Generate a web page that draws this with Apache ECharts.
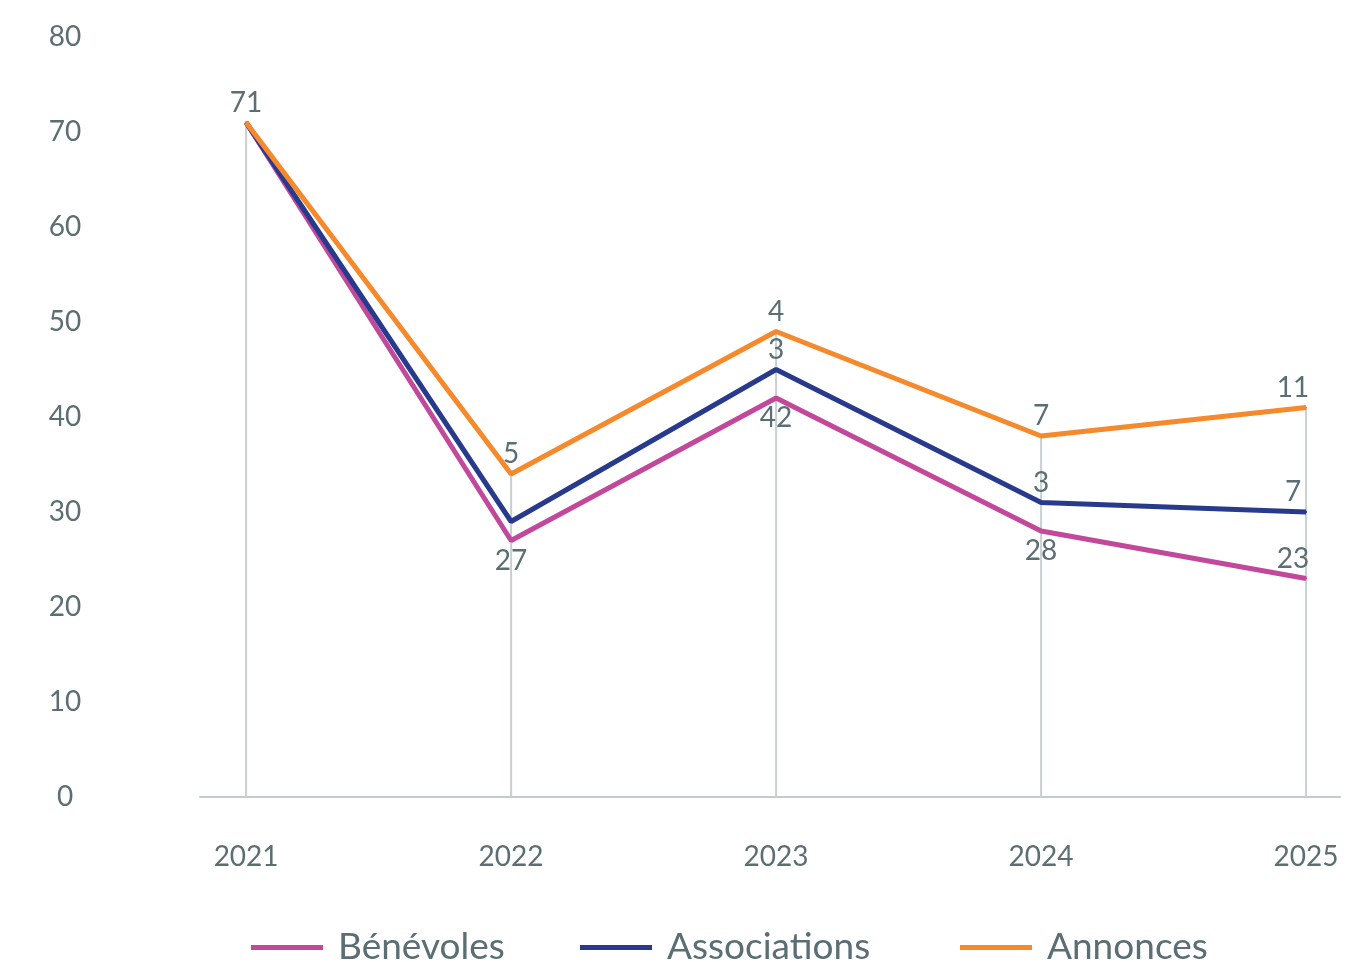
<!DOCTYPE html>
<html>
<head>
<meta charset="utf-8">
<script src="https://cdn.jsdelivr.net/npm/echarts@6/dist/echarts.min.js"></script>
<style>
html,body{margin:0;padding:0;background:#fff;}
#chart{width:1350px;height:962px;}
</style>
</head>
<body>
<div id="chart"></div>
<script>
const years = [2021, 2022, 2023, 2024, 2025];
const benevoles = [71, 27, 42, 28, 23];
const associations = [0, 2, 3, 3, 7];
const annonces = [0, 5, 4, 7, 11];
const yTickValues = [0, 10, 20, 30, 40, 50, 60, 70, 80];

const TEXT = '#5a6e73';
const FONT = 'Lato';

// label placement per point (null = hidden)
const placeBenevoles = ['top', 'bottom', 'bottom', 'bottom', 'top'];
const placeAssociations = [null, null, 'top', 'top', 'top'];
const placeAnnonces = [null, 'top', 'top', 'top', 'top'];

// stacked (cumulative) levels built from the series arrays
const seriesValues = [benevoles, associations, annonces];
const cumulative = seriesValues.map((vals, s) =>
  vals.map((v, i) => seriesValues.slice(0, s + 1).reduce((acc, arr) => acc + arr[i], 0))
);

function makeData(sIdx, placement) {
  const raw = seriesValues[sIdx];
  return years.map((yr, i) => {
    const p = placement[i];
    const last = i === years.length - 1;
    return {
      value: [yr, cumulative[sIdx][i], raw[i]],
      label: p ? { show: true, position: p, padding: last ? [0, 26, 0, 0] : 0 } : { show: false }
    };
  });
}

const totals = years.map((yr, i) => [yr, cumulative[2][i]]);

function lineSeries(name, sIdx, placement, color, z) {
  return {
    name: name,
    type: 'line',
    symbol: 'circle',
    symbolSize: 2,
    showSymbol: true,
    z: z,
    encode: { x: 0, y: 1 },
    lineStyle: { width: 5, color: color },
    itemStyle: { color: color },
    label: {
      show: true,
      color: TEXT,
      fontFamily: FONT,
      fontSize: 28,
      distance: 5,
      formatter: p => String(p.value[2])
    },
    labelLayout: { hideOverlap: false },
    data: makeData(sIdx, placement)
  };
}

function legendFor(name, color, left) {
  return {
    data: [{ name: name, itemStyle: { color: color, opacity: 1 } }],
    left: left,
    top: 929,
    padding: 0,
    icon: 'rect',
    itemWidth: 72,
    itemHeight: 5,
    textStyle: { color: TEXT, fontFamily: FONT, fontSize: 37, padding: [0, 0, 0, 10] },
    selectedMode: false
  };
}

const chart = echarts.init(document.getElementById('chart'), null, { renderer: 'canvas' });
chart.setOption({
  animation: false,
  backgroundColor: '#ffffff',
  grid: { left: 200, right: 10, top: 37, bottom: 165, containLabel: false },
  legend: [
    legendFor('Bénévoles', '#c1489b', 251),
    legendFor('Associations', '#283a8c', 580),
    legendFor('Annonces', '#f5892b', 960)
  ],
  xAxis: {
    type: 'value',
    min: 2020.826,
    max: 2025.128,
    axisLine: { show: true, lineStyle: { color: '#c3cbcf', width: 2 } },
    axisTick: { show: false },
    splitLine: { show: false },
    axisLabel: {
      customValues: years,
      color: TEXT,
      fontFamily: FONT,
      fontSize: 28,
      margin: 46,
      formatter: v => String(v)
    }
  },
  yAxis: {
    type: 'value',
    min: 0,
    max: 80,
    interval: 10,
    axisLine: { show: false },
    axisTick: { show: false },
    splitLine: { show: false },
    axisLabel: {
      customValues: yTickValues,
      color: TEXT,
      fontFamily: FONT,
      fontSize: 28,
      align: 'center',
      margin: 135
    }
  },
  series: [
    {
      name: 'drop',
      type: 'bar',
      barWidth: 2,
      z: 1,
      silent: true,
      itemStyle: { color: '#c8d0d4' },
      data: totals
    },
    lineSeries('Bénévoles', 0, placeBenevoles, '#c1489b', 3),
    lineSeries('Associations', 1, placeAssociations, '#283a8c', 4),
    lineSeries('Annonces', 2, placeAnnonces, '#f5892b', 5)
  ]
});
</script>
</body>
</html>
